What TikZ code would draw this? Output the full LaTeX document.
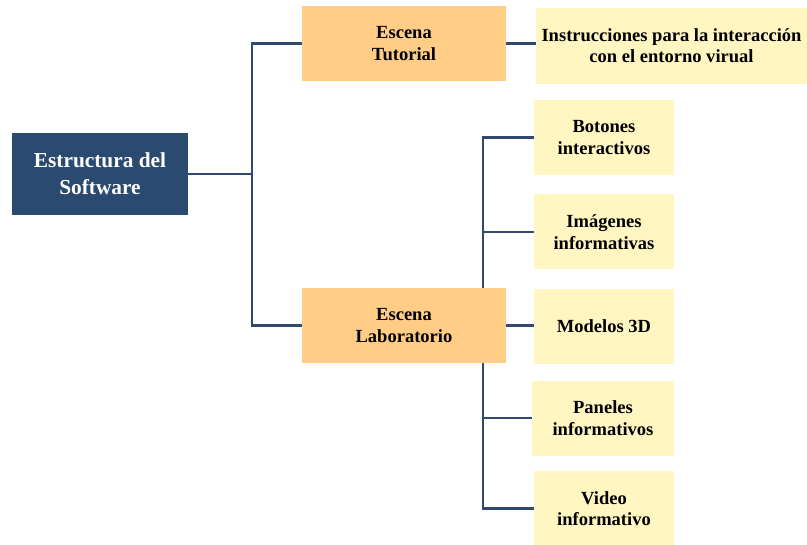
\documentclass[tikz,border=0pt]{standalone}
\usepackage{fontspec}
\setmainfont{Liberation Serif}
\definecolor{azulosc}{HTML}{2B4A6F}
\definecolor{naranja}{HTML}{FFCD85}
\definecolor{amarillo}{HTML}{FFF6C2}
\definecolor{linea}{HTML}{2F4A6E}
\begin{document}
\begin{tikzpicture}[x=0.75pt,y=-0.75pt,
  raiz/.style={fill=azulosc,text=white,inner sep=0pt,align=center,
    minimum width=132pt,minimum height=61.5pt,
    font=\fontsize{16}{20}\selectfont\bfseries},
  escena/.style={fill=naranja,inner sep=0pt,align=center,
    minimum width=153pt,minimum height=56.25pt,
    font=\fontsize{13.9}{16}\selectfont\bfseries},
  hoja/.style={fill=amarillo,inner sep=0pt,align=center,
    minimum width=105pt,minimum height=56.25pt,
    font=\fontsize{13.9}{16}\selectfont\bfseries},
  rama/.style={draw=linea,line width=1.6pt}]
\useasboundingbox (0,0) rectangle (807,545);

% Raiz
\node[raiz] (soft) at (100,174) {Estructura del\\Software};

% Escenas
\node[escena] (tuto) at (404,43.5) {Escena\\Tutorial};
\node[escena] (lab) at (404,325.5) {Escena\\Laboratorio};

% Hojas
\node[hoja,minimum width=203.25pt,minimum height=57pt] (instr) at (671.5,46)
  {Instrucciones para la interacción\\con el entorno virual};
\node[hoja] (boton) at (604,137.5) {Botones\\interactivos};
\node[hoja] (imagen) at (604,232) {Imágenes\\informativas};
\node[hoja] (modelo) at (604,326.5) {Modelos 3D};
\node[hoja,minimum width=106.5pt] (panel) at (603,418) {Paneles\\informativos};
\node[hoja] (video) at (604,508.5) {Video\\informativo};

% Las ramas
\coordinate (bif) at (252,174);
\coordinate (labtr) at (483,0);
\draw[rama] (soft.east) -- (bif);
\draw[rama] (tuto.west) -| (bif) |- (lab.west);
\draw[rama] (tuto.east) -- (tuto.east -| instr.west);
\draw[rama] (lab.north -| labtr) |- (boton.west);
\draw[rama] (lab.north -| labtr) |- (imagen.west);
\draw[rama] (lab.east) -- (lab.east -| modelo.west);
\draw[rama] (lab.south -| labtr) |- (panel.west);
\draw[rama] (lab.south -| labtr) |- (video.west);

\end{tikzpicture}
\end{document}
